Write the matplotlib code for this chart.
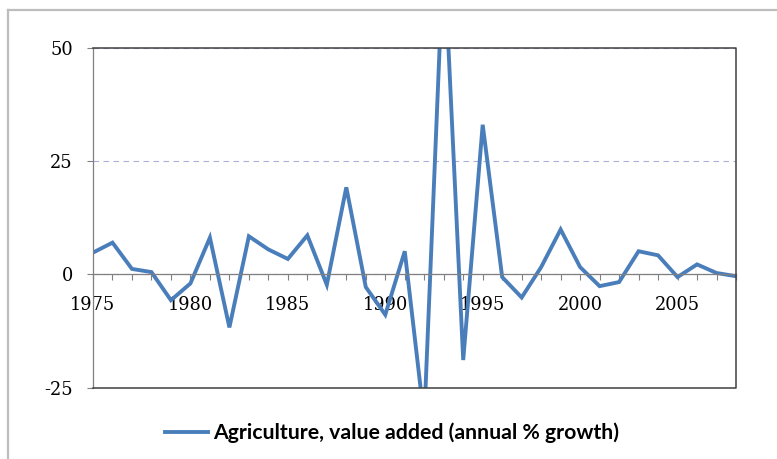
import numpy as np
import matplotlib.pyplot as plt
from matplotlib.lines import Line2D

# annual % growth, agriculture value added
years = list(range(1975, 2009))
growth = [4.8, 7.0, 1.2, 0.5, -5.7, -2.0, 8.1, -11.7, 8.4, 5.5,
          3.4, 8.6, -2.3, 19.2, -2.8, -8.9, 5.1, -32.0, 72.0, -18.9,
          33.0, -0.6, -5.1, 1.6, 9.9, 1.6, -2.6, -1.7, 5.1, 4.2,
          -0.6, 2.2, 0.3, -0.4]
y_ticks = [-25, 0, 25, 50]
x_labels = [1975, 1980, 1985, 1990, 1995, 2000, 2005]
series_name = "Agriculture, value added (annual % growth)"

plt.rcParams['font.family'] = ['DejaVu Serif']
plt.rcParams['axes.unicode_minus'] = False

fig = plt.figure(figsize=(7.77, 4.59), dpi=100)
ax = fig.add_axes([93 / 777, 1 - 387.7 / 459, 643 / 777, 340 / 459])

ax.plot(years, growth, color='#4A7EBB', linewidth=2.8, solid_joinstyle='miter')

ax.set_xlim(1975, 2008)
ax.set_ylim(-25, 50)

# y axis
ax.set_yticks(y_ticks)
ax.yaxis.grid(True, color='#A9B1D8', linestyle=(0, (5, 4)), linewidth=0.8)
ax.set_axisbelow(True)
ax.tick_params(axis='y', direction='out', length=4.5, width=0.8, color='#808080',
               labelsize=12.8, pad=10, labelcolor='black')

# x axis sits on zero, one tick per year, labels every five
ax.spines['bottom'].set_position(('data', 0))
ax.set_xticks(years)
ax.set_xticklabels([str(y) if y in x_labels else '' for y in years])
ax.tick_params(axis='x', direction='out', length=4.5, width=0.8, color='#808080',
               labelsize=12.8, pad=11, labelcolor='black')

for side in ['top', 'right']:
    ax.spines[side].set_visible(False)
ax.spines['left'].set_color('#808080')
ax.spines['bottom'].set_color('#808080')
ax.spines['left'].set_linewidth(0.9)
ax.spines['bottom'].set_linewidth(0.9)

# plot-area frame (top, right, bottom)
ax.plot([0, 1, 1, 0], [1, 1, 0, 0], transform=ax.transAxes, color='#404040',
        linewidth=1.1, clip_on=False, zorder=3)

# legend below the plot
handle = Line2D([], [], color='#4A7EBB', linewidth=2.8)
fig.legend([handle], [series_name], loc='center', bbox_to_anchor=(392 / 777, 1 - 433 / 459),
           frameon=False, handlelength=2.0, handletextpad=0.25,
           prop={'family': ['Lato', 'DejaVu Sans'], 'weight': 'bold', 'size': 15.3})

# outer chart border (cropped screenshot: only left and top visible)
fig.add_artist(Line2D([7.5 / 777, 7.5 / 777], [0, 1 - 10 / 459], color='#BDBDBD', linewidth=1.6))
fig.add_artist(Line2D([7.5 / 777, 1], [1 - 10 / 459, 1 - 10 / 459], color='#BDBDBD', linewidth=1.6))

fig.savefig('out.png', dpi=100)
